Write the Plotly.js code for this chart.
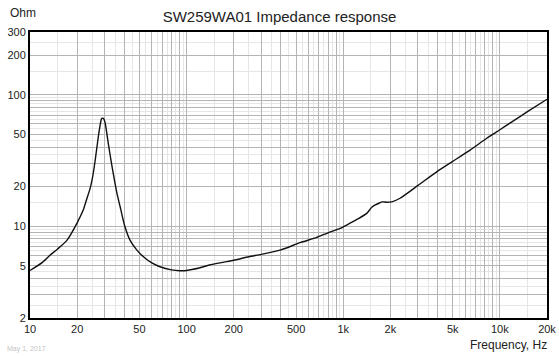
<!DOCTYPE html>
<html>
<head>
<meta charset="utf-8">
<script src="https://cdn.plot.ly/plotly-3.0.1.min.js"></script>
<style>
  html, body { margin: 0; padding: 0; background: #fff; }
  #chart { width: 559px; height: 356px; }
</style>
</head>
<body>
<div id="chart"></div>
<script>
// Impedance curve
const freq = [10, 12, 13.4, 15, 17.2, 20, 21.9, 23, 24.2, 25, 26, 27.3, 28, 28.7, 29.4, 30.1, 31, 31.6, 33, 34, 36, 37.6, 40, 43.5, 48, 53, 60, 67.6, 80, 90.6, 100, 120, 140, 170, 200, 250, 300, 400, 530, 677, 800, 954, 1100, 1250, 1413, 1521, 1602, 1700, 1770, 1900, 2040, 2305, 3000, 3950, 5000, 6450, 8250, 10000, 12000, 15000, 20000];
const impedance = [4.6, 5.3, 6.0, 6.7, 7.8, 10.6, 13.3, 16, 19.4, 23, 30.9, 47.9, 58, 66, 66, 62, 50, 42.7, 31, 25.2, 17.5, 14.1, 10.3, 7.83, 6.6, 5.85, 5.25, 4.91, 4.65, 4.58, 4.6, 4.8, 5.06, 5.3, 5.5, 5.85, 6.1, 6.6, 7.48, 8.2, 8.9, 9.6, 10.5, 11.4, 12.5, 13.9, 14.5, 15.0, 15.3, 15.2, 15.3, 16.3, 20.4, 25.9, 31.1, 37.9, 46.6, 54.1, 62.4, 74.3, 92.3];

// Tick labels
const xTickVals = [10, 20, 50, 100, 200, 500, 1000, 2000, 5000, 10000, 20000];
const xTickText = ['10', '20', '50', '100', '200', '500', '1k', '2k', '5k', '10k', '20k'];
const yTickVals = [2, 5, 10, 20, 50, 100, 200, 300];
const yTickText = ['2', '5', '10', '20', '50', '100', '200', '300'];

// Grid multipliers per decade
const majorMult = [1, 2, 3, 4, 5, 6, 7, 8, 9];
const minorMult = [1.5, 2.5, 3.5, 4.5, 5.5, 6.5, 7.5, 8.5, 9.5];

function gridVals(mults, decades, lo, hi) {
  const out = [];
  decades.forEach(d => mults.forEach(m => {
    const v = +(m * d).toPrecision(6);
    if (v >= lo && v <= hi) out.push(v);
  }));
  return out;
}
const xDecades = [10, 100, 1000, 10000];
const yDecades = [1, 10, 100];
const xMajor = gridVals(majorMult, xDecades, 10, 20000);
const xMinor = gridVals(minorMult, xDecades, 10, 20000);
const yMajor = gridVals(majorMult, yDecades, 2, 300);
const yMinor = gridVals(minorMult, yDecades, 2, 300);

function labelsFor(vals, labVals, labText) {
  return vals.map(v => {
    const i = labVals.indexOf(v);
    return i >= 0 ? labText[i] : '';
  });
}

const FONT = 'Liberation Sans, Arial, sans-serif';
const gridDark = '#b4b4b4';
const gridLight = '#e6e6e6';

const trace = {
  x: freq, y: impedance, type: 'scatter', mode: 'lines',
  line: { color: '#111', width: 1.4, shape: 'spline', smoothing: 0.6 },
  hoverinfo: 'skip'
};

const layout = {
  width: 559, height: 356,
  margin: { l: 30, r: 12, t: 32, b: 38 },
  paper_bgcolor: '#fff', plot_bgcolor: '#fff',
  showlegend: false,
  font: { family: FONT, size: 11, color: '#222' },
  title: {
    text: 'SW259WA01 Impedance response',
    font: { family: FONT, size: 15, color: '#222' },
    x: 0.5, xref: 'container', xanchor: 'center',
    y: 0.952, yref: 'container', yanchor: 'middle'
  },
  xaxis: {
    type: 'log', range: [Math.log10(10), Math.log10(20000)],
    tickmode: 'array', tickvals: xMajor, ticktext: labelsFor(xMajor, xTickVals, xTickText),
    ticks: '', showgrid: true, gridcolor: gridDark, gridwidth: 1,
    minor: { tickmode: 'array', tickvals: xMinor, showgrid: true, gridcolor: gridLight, gridwidth: 1, ticks: '' },
    showline: true, mirror: true, linecolor: '#000', linewidth: 2,
    zeroline: false, tickfont: { family: FONT, size: 11, color: '#222' },
    fixedrange: true
  },
  yaxis: {
    type: 'log', range: [Math.log10(2), Math.log10(300)],
    tickmode: 'array', tickvals: yMajor, ticktext: labelsFor(yMajor, yTickVals, yTickText),
    ticks: '', showgrid: true, gridcolor: gridDark, gridwidth: 1,
    minor: { tickmode: 'array', tickvals: yMinor, showgrid: true, gridcolor: gridLight, gridwidth: 1, ticks: '' },
    showline: true, mirror: true, linecolor: '#000', linewidth: 2,
    zeroline: false, tickfont: { family: FONT, size: 11, color: '#222' },
    fixedrange: true
  },
  annotations: [
    { text: 'Ohm', xref: 'paper', yref: 'paper', x: 0, y: 1, xshift: -22, yshift: 19,
      xanchor: 'left', yanchor: 'middle', showarrow: false, font: { family: FONT, size: 12, color: '#222' } },
    { text: 'Frequency, Hz', xref: 'paper', yref: 'paper', x: 1, y: 0, xshift: 2, yshift: -27,
      xanchor: 'right', yanchor: 'middle', showarrow: false, font: { family: FONT, size: 12, color: '#222' } },
    { text: 'May 1, 2017', xref: 'paper', yref: 'paper', x: 0, y: 0, xshift: -25, yshift: -31,
      xanchor: 'left', yanchor: 'middle', showarrow: false, font: { family: FONT, size: 7, color: '#c4c4c4' } }
  ]
};

Plotly.newPlot('chart', [trace], layout, { staticPlot: true, displayModeBar: false });
</script>
</body>
</html>
